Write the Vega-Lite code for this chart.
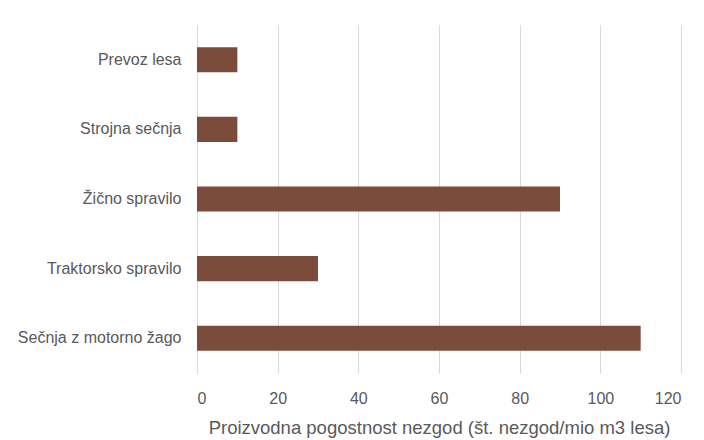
{
  "$schema": "https://vega.github.io/schema/vega-lite/v6.json",
  "width": 484,
  "height": 348,
  "autosize": "none",
  "padding": {"left": 197, "top": 25, "right": 23, "bottom": 67},
  "background": "white",
  "data": {"values": [
    {"kategorija": "Prevoz lesa", "vrednost": 10},
    {"kategorija": "Strojna sečnja", "vrednost": 10},
    {"kategorija": "Žično spravilo", "vrednost": 90},
    {"kategorija": "Traktorsko spravilo", "vrednost": 30},
    {"kategorija": "Sečnja z motorno žago", "vrednost": 110}
  ]},
  "mark": {"type": "bar", "color": "#7B4B3B"},
  "encoding": {
    "y": {
      "field": "kategorija", "type": "nominal", "sort": null,
      "scale": {"paddingInner": 0.64, "paddingOuter": 0.32},
      "axis": {"title": null, "domain": false, "ticks": false, "labelPadding": 16, "labelFont": "Liberation Sans", "labelFontSize": 16, "labelColor": "#595959", "grid": false}
    },
    "x": {
      "field": "vrednost", "type": "quantitative",
      "scale": {"domain": [0, 120]},
      "axis": {"values": [0, 20, 40, 60, 80, 100, 120], "title": "Proizvodna pogostnost nezgod (št. nezgod/mio m3 lesa)", "domain": false, "ticks": false, "grid": true, "gridColor": "#D9D9D9", "gridWidth": 1, "labelPadding": 17, "labelFont": "Liberation Sans", "labelFontSize": 16, "labelColor": "#595959", "titleFont": "Liberation Sans", "titleFontSize": 18.5, "titleFontWeight": "normal", "titleColor": "#595959", "titlePadding": 12}
    }
  },
  "config": {"view": {"stroke": null}}
}
